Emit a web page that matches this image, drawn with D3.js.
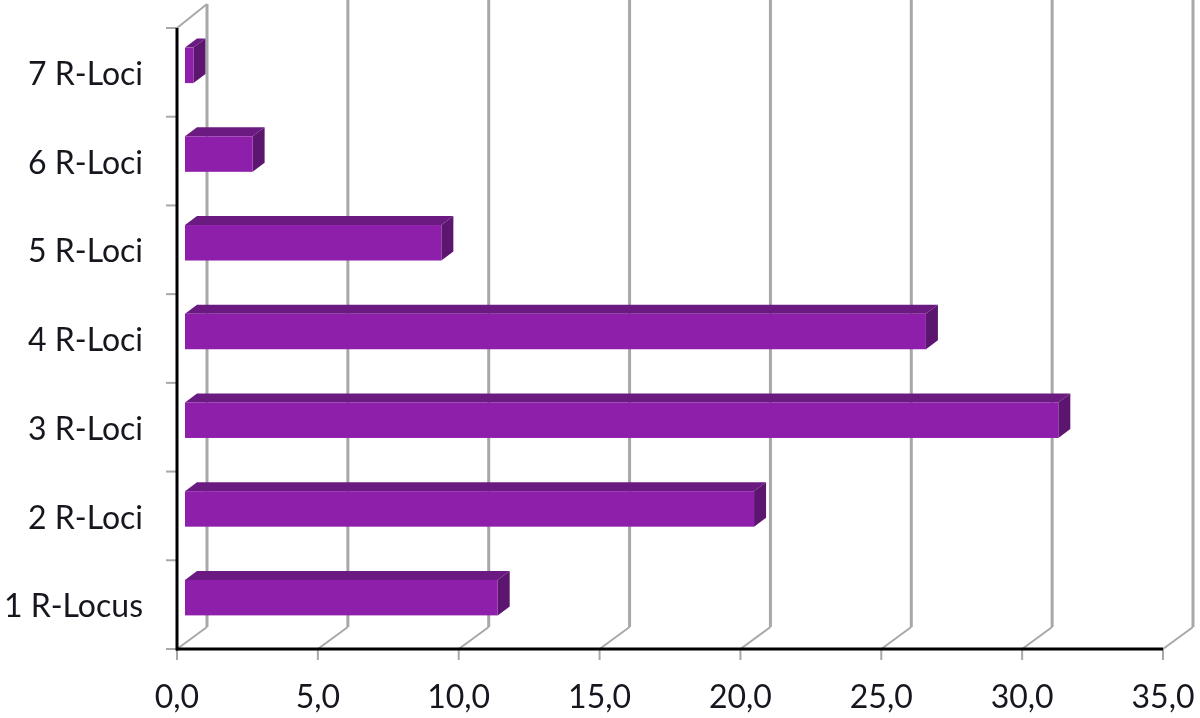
<!DOCTYPE html>
<html><head><meta charset="utf-8">
<script src="https://cdn.jsdelivr.net/npm/d3@7"></script>
<style>html,body{margin:0;background:#fff}svg{display:block;filter:blur(0.6px)}text{font-family:Lato,"Open Sans",sans-serif;fill:#16161e}</style>
</head><body><svg id="c" width="1200" height="718"></svg>
<script>
const categories=["1 R-Locus","2 R-Loci","3 R-Loci","4 R-Loci","5 R-Loci","6 R-Loci","7 R-Loci"];
const values=[11.1,20.2,31.0,26.3,9.1,2.4,0.3];
const xTicks=[0,5,10,15,20,25,30,35];
const tickLabels=["0,0","5,0","10,0","15,0","20,0","25,0","30,0","35,0"];
const colors={front:"#8e1fab",top:"#6b1a82",side:"#5d1670",grid:"#a8a8a8",axis:"#000"};

const x=d3.scaleLinear().domain([0,35]).range([177,1163]);
const y=d3.scaleBand().domain(categories).range([642,21]).paddingInner(0.6).paddingOuter(0.3);
const slot=d3.scaleBand().domain(categories).range([649,28]);
const back={dx:30,dy:-22}, inset=8, depth={dx:12,dy:-9};
const svg=d3.select("#c");

// back wall and floor gridlines
const g=svg.append("g");
g.selectAll("line.wall").data(xTicks).join("line").attr("class","wall")
 .attr("x1",d=>x(d)+back.dx).attr("x2",d=>x(d)+back.dx)
 .attr("y1",d=>d===0?4:0).attr("y2",649+back.dy)
 .attr("stroke",colors.grid).attr("stroke-width",3);
g.selectAll("line.floor").data(xTicks).join("line").attr("class","floor")
 .attr("x1",d=>x(d)).attr("x2",d=>x(d)+back.dx)
 .attr("y1",649).attr("y2",649+back.dy)
 .attr("stroke",colors.grid).attr("stroke-width",2);
g.append("line").attr("x1",x(0)).attr("x2",x(0)+back.dx).attr("y1",28).attr("y2",4)
 .attr("stroke",colors.grid).attr("stroke-width",2);

// bars
const rows=categories.map((c,i)=>({c,v:values[i]}));
const bar=svg.append("g").selectAll("g").data(rows).join("g");
const L=inset, pts=a=>a.map(p=>p.join(",")).join(" ");
bar.append("polygon").attr("fill",colors.top).attr("points",d=>{
  const l=x(0)+L,r=x(d.v)+L,t=y(d.c);
  return pts([[l,t],[l+depth.dx,t+depth.dy],[r+depth.dx,t+depth.dy],[r,t]]);});
bar.append("polygon").attr("fill",colors.side).attr("points",d=>{
  const r=x(d.v)+L,t=y(d.c),b=t+y.bandwidth();
  return pts([[r,t],[r+depth.dx,t+depth.dy],[r+depth.dx,b+depth.dy],[r,b]]);});
bar.append("rect").attr("fill",colors.front)
 .attr("x",x(0)+L).attr("y",d=>y(d.c))
 .attr("width",d=>x(d.v)-x(0)).attr("height",y.bandwidth());

// axes
const ax=svg.append("g");
ax.selectAll("line.xt").data(xTicks).join("line").attr("class","xt")
 .attr("x1",d=>x(d)).attr("x2",d=>x(d)).attr("y1",649).attr("y2",660)
 .attr("stroke",colors.grid).attr("stroke-width",2);
const yTickPos=d3.range(0,8).map(i=>649-i*slot.step());
ax.selectAll("line.yt").data(yTickPos).join("line").attr("class","yt")
 .attr("x1",166).attr("x2",177).attr("y1",d=>d).attr("y2",d=>d)
 .attr("stroke",colors.grid).attr("stroke-width",2);
ax.append("line").attr("x1",x(0)).attr("x2",x(0)).attr("y1",28).attr("y2",650.5).attr("stroke",colors.axis).attr("stroke-width",3);
ax.append("line").attr("x1",x(0)-1).attr("x2",x(35)).attr("y1",649).attr("y2",649).attr("stroke",colors.axis).attr("stroke-width",3);

// labels
svg.append("g").selectAll("text").data(categories).join("text")
 .attr("x",143).attr("y",c=>slot(c)+slot.bandwidth()/2+1.5).attr("dy","0.35em")
 .attr("text-anchor","end").attr("font-size",32).text(c=>c);
svg.append("g").selectAll("text").data(xTicks).join("text")
 .attr("x",d=>x(d)).attr("y",697).attr("dy","0.35em")
 .attr("text-anchor","middle").attr("font-size",32).text((d,i)=>tickLabels[i]);
</script></body></html>
